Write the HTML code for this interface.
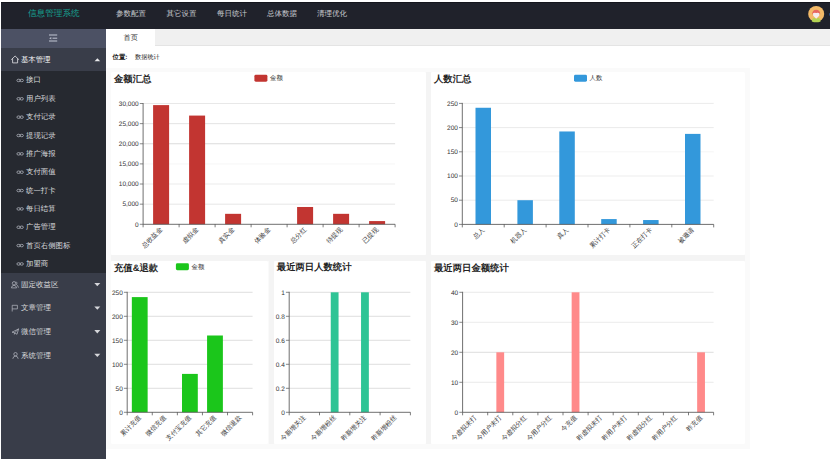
<!DOCTYPE html>
<html><head><meta charset="utf-8">
<style>
html,body{margin:0;padding:0;}
body{text-rendering:geometricPrecision;width:830px;height:459px;overflow:hidden;position:relative;background:#fff;font-family:"Liberation Sans", sans-serif;}
div{position:absolute;box-sizing:border-box;}
#top{left:1px;top:2px;width:829px;height:27px;background:#20222b;border-top:1px solid #15161d;}
#logo{left:28px;top:8.4px;font-size:8.6px;line-height:11px;color:#16a393;white-space:nowrap;}
.nav{top:8.3px;font-size:7.5px;line-height:11px;color:#c8cacf;white-space:nowrap;}
#avatar{left:808.5px;top:6.4px;width:15.2px;height:15.2px;border-radius:50%;background:#f2b25c;overflow:hidden;}
#side{left:1px;top:29px;width:105px;height:430px;background:#393d49;}
#tool{left:1px;top:29px;width:105px;height:18.8px;background:#4c5164;}
#hdr{left:1px;top:47.8px;width:105px;height:23.2px;background:#393d49;}
#subbg{left:1px;top:71px;width:105px;height:201.5px;background:#262930;}
.sub{left:26px;font-size:7.4px;line-height:10px;color:#d8d9dc;white-space:nowrap;}
.lk{display:inline-block;width:9px;font-size:7px;color:#c8c9cc;}
.grp{left:21px;font-size:7.5px;line-height:10px;color:#d8d9dc;white-space:nowrap;}
.gi{display:inline-block;width:8.5px;font-size:6px;color:#c8c9cc;}
.tri-d{left:94.6px;width:0;height:0;border-left:2.8px solid transparent;border-right:2.8px solid transparent;border-top:3px solid #d0d1d5;}
#tabbar{left:106px;top:29px;width:724px;height:16.6px;background:#f0f0f0;border-bottom:0.6px solid #e4e4e4;}
#tab1{left:106px;top:29px;width:49px;height:16.8px;background:#fff;}
#tab1t{left:123.6px;top:32.5px;font-size:7.2px;line-height:10px;color:#333;white-space:nowrap;}
#crumb{left:112.5px;top:53.2px;font-size:6.4px;line-height:9px;color:#222;white-space:nowrap;}
#crumb2{left:135px;top:53.2px;font-size:6.2px;line-height:9px;color:#222;white-space:nowrap;}
#cont{left:106px;top:67.5px;width:644px;height:381px;background:#fafafa;}
.gap{background:#f4f4f4;}
.card{background:#fff;border-radius:1.5px;}
.ttl{font-size:9.35px;line-height:12px;font-weight:bold;color:#222;white-space:nowrap;}
svg{position:absolute;left:0;top:0;}
svg text{text-rendering:geometricPrecision;}
</style></head><body>
<div id="top"></div>
<div id="logo">信息管理系统</div>
<div class="nav" style="left:116px">参数配置</div><div class="nav" style="left:166.5px">其它设置</div><div class="nav" style="left:217px">每日统计</div><div class="nav" style="left:267px">总体数据</div><div class="nav" style="left:317px">清理优化</div>
<svg width="830" height="459" style="z-index:2"><circle cx="816.2" cy="13.9" r="8" fill="#f3ba68"/>
<path d="M812.2 14.3 Q812.2 9.8 816.2 9.8 Q820.2 9.8 820.2 14.3 Z" fill="#e8675f"/>
<path d="M813 13.2 Q814.5 12.3 816.2 13 Q818 12.3 819.4 13.2 L819.2 15.8 L816.2 18.8 L813.2 15.8 Z" fill="#f6ecef"/>
<path d="M811.8 21.4 Q812 18.2 814.3 17.8 L816.2 19 L818.1 17.8 Q820.4 18.2 820.6 21.4 Q816.2 23.2 811.8 21.4 Z" fill="#b3d353"/>
<rect x="829" y="13.2" width="1" height="2.4" fill="#3a6fc0" opacity="0.55"/></svg>
<div id="side"></div>
<div id="tool"></div>
<div id="hdr"></div>
<div id="subbg"></div>
<svg width="830" height="459" style="z-index:2">
<g stroke="#b9bdca" stroke-width="1.1" fill="none">
<line x1="49" y1="35" x2="57.2" y2="35"/><line x1="52.5" y1="38.2" x2="57.2" y2="38.2"/><line x1="49" y1="41" x2="57.2" y2="41"/>
</g>
<path d="M49.2 38.2 L51.3 36.9 L51.3 39.5 Z" fill="#b9bdca"/>
<path d="M11.3 59.7 L15.1 56 L18.9 59.7 M12.6 58.5 V62.9 H17.6 V58.5" stroke="#e4e5e8" stroke-width="0.8" fill="none"/>
<path d="M94.6 61.2 L97.4 58.2 L100.2 61.2 Z" fill="#e8e9ec"/>
<g fill="none" stroke="#b4b8c2" stroke-width="0.75"><ellipse cx="18.6" cy="80.45" rx="1.7" ry="1.25"/><ellipse cx="21.7" cy="80.45" rx="1.7" ry="1.25"/><ellipse cx="18.6" cy="98.80" rx="1.7" ry="1.25"/><ellipse cx="21.7" cy="98.80" rx="1.7" ry="1.25"/><ellipse cx="18.6" cy="117.15" rx="1.7" ry="1.25"/><ellipse cx="21.7" cy="117.15" rx="1.7" ry="1.25"/><ellipse cx="18.6" cy="135.50" rx="1.7" ry="1.25"/><ellipse cx="21.7" cy="135.50" rx="1.7" ry="1.25"/><ellipse cx="18.6" cy="153.85" rx="1.7" ry="1.25"/><ellipse cx="21.7" cy="153.85" rx="1.7" ry="1.25"/><ellipse cx="18.6" cy="172.20" rx="1.7" ry="1.25"/><ellipse cx="21.7" cy="172.20" rx="1.7" ry="1.25"/><ellipse cx="18.6" cy="190.55" rx="1.7" ry="1.25"/><ellipse cx="21.7" cy="190.55" rx="1.7" ry="1.25"/><ellipse cx="18.6" cy="208.90" rx="1.7" ry="1.25"/><ellipse cx="21.7" cy="208.90" rx="1.7" ry="1.25"/><ellipse cx="18.6" cy="227.25" rx="1.7" ry="1.25"/><ellipse cx="21.7" cy="227.25" rx="1.7" ry="1.25"/><ellipse cx="18.6" cy="245.60" rx="1.7" ry="1.25"/><ellipse cx="21.7" cy="245.60" rx="1.7" ry="1.25"/><ellipse cx="18.6" cy="263.95" rx="1.7" ry="1.25"/><ellipse cx="21.7" cy="263.95" rx="1.7" ry="1.25"/></g>
<path d="M94.3 282.90 L100.3 282.90 L97.3 286.20 Z" fill="#d6d7db"/><g fill="none" stroke="#b9bcc4" stroke-width="0.7"><circle cx="14" cy="283.30" r="1.7"/><path d="M11.4 287.90 Q11.8 285.30 14 285.30 Q16.2 285.30 16.6 287.90 Z"/><path d="M16 281.60 Q17.9 282.70 16.5 284.70 Q18.2 285.50 18.4 287.70"/></g><path d="M94.3 306.50 L100.3 306.50 L97.3 309.80 Z" fill="#d6d7db"/><g fill="none" stroke="#b9bcc4" stroke-width="0.7"><path d="M12.2 311.50 V305.30 H17.4 V308.90 H12.2"/></g><path d="M94.3 330.10 L100.3 330.10 L97.3 333.40 Z" fill="#d6d7db"/><g fill="none" stroke="#b9bcc4" stroke-width="0.7"><path d="M12 332.20 L18.6 328.90 L17 334.30 L14.6 332.80 Z M14.6 332.80 L18.6 328.90 M14.6 332.80 L14.3 334.50"/></g><path d="M94.3 353.70 L100.3 353.70 L97.3 357.00 Z" fill="#d6d7db"/><g fill="none" stroke="#b9bcc4" stroke-width="0.7"><circle cx="15.5" cy="354.20" r="1.7"/><path d="M12.8 358.80 Q13.2 356.10 15.5 356.10 Q17.8 356.10 18.2 358.80"/></g>
</svg>
<div id="hdrt" style="left:20.9px;top:55px;font-size:7.4px;line-height:10px;color:#ffffff;white-space:nowrap;z-index:3">基本管理</div>
<div class="sub" style="top:75.45px">接口</div><div class="sub" style="top:93.80px">用户列表</div><div class="sub" style="top:112.15px">支付记录</div><div class="sub" style="top:130.50px">提现记录</div><div class="sub" style="top:148.85px">推广海报</div><div class="sub" style="top:167.20px">支付面值</div><div class="sub" style="top:185.55px">统一打卡</div><div class="sub" style="top:203.90px">每日结算</div><div class="sub" style="top:222.25px">广告管理</div><div class="sub" style="top:240.60px">首页右侧图标</div><div class="sub" style="top:258.95px">加盟商</div>
<div class="grp" style="top:279.70px">固定收益区</div><div class="grp" style="top:303.30px">文章管理</div><div class="grp" style="top:326.90px">微信管理</div><div class="grp" style="top:350.50px">系统管理</div>
<div id="tabbar"></div>
<div id="tab1"></div>
<div id="tab1t">首页</div>
<div id="crumb"><b>位置:</b></div><div id="crumb2">数据统计</div>
<div id="cont"></div><div class="gap" style="left:425.6px;top:71.6px;width:5.4px;height:372.6px"></div><div class="gap" style="left:110.8px;top:255px;width:634.5px;height:6px"></div><div class="gap" style="left:268.5px;top:261px;width:5.2px;height:183.2px"></div>
<div class="card" style="left:110.8px;top:71.6px;width:314.80px;height:183.40px"></div><div class="card" style="left:431.0px;top:71.6px;width:314.30px;height:183.40px"></div><div class="card" style="left:110.8px;top:261.0px;width:157.70px;height:183.20px"></div><div class="card" style="left:273.7px;top:261.0px;width:151.90px;height:183.20px"></div><div class="card" style="left:431.0px;top:261.0px;width:314.30px;height:183.20px"></div>
<div class="ttl" style="left:114px;top:72.50px">金额汇总</div><div class="ttl" style="left:434px;top:72.50px">人数汇总</div><div class="ttl" style="left:114px;top:261.50px">充值&amp;退款</div><div class="ttl" style="left:276.8px;top:261.30px">最近两日人数统计</div><div class="ttl" style="left:434px;top:261.50px">最近两日金额统计</div>
<svg width="830" height="459" font-family='"Liberation Sans", sans-serif'>
<rect x="254.4" y="74.85" width="13" height="6.9" rx="1.4" fill="#c23531"/><text x="270.00" y="80.10" font-size="6.4" fill="#333">金额</text><rect x="574.0" y="74.85" width="13" height="6.9" rx="1.4" fill="#3398db"/><text x="589.60" y="80.10" font-size="6.4" fill="#333">人数</text><rect x="175.9" y="263.25" width="13" height="6.9" rx="1.4" fill="#1bc61b"/><text x="191.50" y="268.50" font-size="6.4" fill="#333">金额</text>
<line x1="139.79999999999998" y1="224.30" x2="143.1" y2="224.30" stroke="#555" stroke-width="0.7"/>
<text x="138.7" y="226.50" text-anchor="end" font-size="6.5" fill="#333">0</text>
<line x1="143.1" y1="204.17" x2="395.1" y2="204.17" stroke="#e0e0e0" stroke-width="0.8"/>
<line x1="139.79999999999998" y1="204.17" x2="143.1" y2="204.17" stroke="#555" stroke-width="0.7"/>
<text x="138.7" y="206.37" text-anchor="end" font-size="6.5" fill="#333">5,000</text>
<line x1="143.1" y1="184.03" x2="395.1" y2="184.03" stroke="#e6e6e6" stroke-width="0.8"/>
<line x1="139.79999999999998" y1="184.03" x2="143.1" y2="184.03" stroke="#555" stroke-width="0.7"/>
<text x="138.7" y="186.23" text-anchor="end" font-size="6.5" fill="#333">10,000</text>
<line x1="143.1" y1="163.90" x2="395.1" y2="163.90" stroke="#f4f4f4" stroke-width="0.8"/>
<line x1="139.79999999999998" y1="163.90" x2="143.1" y2="163.90" stroke="#555" stroke-width="0.7"/>
<text x="138.7" y="166.10" text-anchor="end" font-size="6.5" fill="#333">15,000</text>
<line x1="143.1" y1="143.77" x2="395.1" y2="143.77" stroke="#d2d2d2" stroke-width="0.8"/>
<line x1="139.79999999999998" y1="143.77" x2="143.1" y2="143.77" stroke="#555" stroke-width="0.7"/>
<text x="138.7" y="145.97" text-anchor="end" font-size="6.5" fill="#333">20,000</text>
<line x1="143.1" y1="123.63" x2="395.1" y2="123.63" stroke="#dcdcdc" stroke-width="0.8"/>
<line x1="139.79999999999998" y1="123.63" x2="143.1" y2="123.63" stroke="#555" stroke-width="0.7"/>
<text x="138.7" y="125.83" text-anchor="end" font-size="6.5" fill="#333">25,000</text>
<line x1="143.1" y1="103.50" x2="395.1" y2="103.50" stroke="#e2e2e2" stroke-width="0.8"/>
<line x1="139.79999999999998" y1="103.50" x2="143.1" y2="103.50" stroke="#555" stroke-width="0.7"/>
<text x="138.7" y="105.70" text-anchor="end" font-size="6.5" fill="#333">30,000</text>
<rect x="153.10" y="105.11" width="16.0" height="119.19" fill="#c23531"/>
<rect x="189.10" y="115.58" width="16.0" height="108.72" fill="#c23531"/>
<rect x="225.10" y="213.83" width="16.0" height="10.47" fill="#c23531"/>
<rect x="297.10" y="206.99" width="16.0" height="17.31" fill="#c23531"/>
<rect x="333.10" y="213.83" width="16.0" height="10.47" fill="#c23531"/>
<rect x="369.10" y="221.08" width="16.0" height="3.22" fill="#c23531"/>
<line x1="143.1" y1="103.0" x2="143.1" y2="224.3" stroke="#555" stroke-width="0.85"/>
<line x1="143.1" y1="224.3" x2="395.1" y2="224.3" stroke="#555" stroke-width="0.85"/>
<line x1="143.10" y1="224.3" x2="143.10" y2="227.3" stroke="#444" stroke-width="0.7"/>
<line x1="179.10" y1="224.3" x2="179.10" y2="227.3" stroke="#444" stroke-width="0.7"/>
<line x1="215.10" y1="224.3" x2="215.10" y2="227.3" stroke="#444" stroke-width="0.7"/>
<line x1="251.10" y1="224.3" x2="251.10" y2="227.3" stroke="#444" stroke-width="0.7"/>
<line x1="287.10" y1="224.3" x2="287.10" y2="227.3" stroke="#444" stroke-width="0.7"/>
<line x1="323.10" y1="224.3" x2="323.10" y2="227.3" stroke="#444" stroke-width="0.7"/>
<line x1="359.10" y1="224.3" x2="359.10" y2="227.3" stroke="#444" stroke-width="0.7"/>
<line x1="395.10" y1="224.3" x2="395.10" y2="227.3" stroke="#444" stroke-width="0.7"/>
<text transform="translate(162.80,230.0) rotate(-45)" text-anchor="end" font-size="6.5" fill="#333">总收益金</text>
<text transform="translate(198.80,230.0) rotate(-45)" text-anchor="end" font-size="6.5" fill="#333">虚拟金</text>
<text transform="translate(234.80,230.0) rotate(-45)" text-anchor="end" font-size="6.5" fill="#333">真实金</text>
<text transform="translate(270.80,230.0) rotate(-45)" text-anchor="end" font-size="6.5" fill="#333">体验金</text>
<text transform="translate(306.80,230.0) rotate(-45)" text-anchor="end" font-size="6.5" fill="#333">总分红</text>
<text transform="translate(342.80,230.0) rotate(-45)" text-anchor="end" font-size="6.5" fill="#333">待提现</text>
<text transform="translate(378.80,230.0) rotate(-45)" text-anchor="end" font-size="6.5" fill="#333">已提现</text><line x1="459.0" y1="224.40" x2="462.3" y2="224.40" stroke="#555" stroke-width="0.7"/>
<text x="457.90000000000003" y="226.60" text-anchor="end" font-size="6.5" fill="#333">0</text>
<line x1="462.3" y1="200.20" x2="713.7" y2="200.20" stroke="#e6e6e6" stroke-width="0.8"/>
<line x1="459.0" y1="200.20" x2="462.3" y2="200.20" stroke="#555" stroke-width="0.7"/>
<text x="457.90000000000003" y="202.40" text-anchor="end" font-size="6.5" fill="#333">50</text>
<line x1="462.3" y1="176.00" x2="713.7" y2="176.00" stroke="#e8e8e8" stroke-width="0.8"/>
<line x1="459.0" y1="176.00" x2="462.3" y2="176.00" stroke="#555" stroke-width="0.7"/>
<text x="457.90000000000003" y="178.20" text-anchor="end" font-size="6.5" fill="#333">100</text>
<line x1="462.3" y1="151.80" x2="713.7" y2="151.80" stroke="#f3f3f3" stroke-width="0.8"/>
<line x1="459.0" y1="151.80" x2="462.3" y2="151.80" stroke="#555" stroke-width="0.7"/>
<text x="457.90000000000003" y="154.00" text-anchor="end" font-size="6.5" fill="#333">150</text>
<line x1="462.3" y1="127.60" x2="713.7" y2="127.60" stroke="#e4e4e4" stroke-width="0.8"/>
<line x1="459.0" y1="127.60" x2="462.3" y2="127.60" stroke="#555" stroke-width="0.7"/>
<text x="457.90000000000003" y="129.80" text-anchor="end" font-size="6.5" fill="#333">200</text>
<line x1="462.3" y1="103.40" x2="713.7" y2="103.40" stroke="#e6e6e6" stroke-width="0.8"/>
<line x1="459.0" y1="103.40" x2="462.3" y2="103.40" stroke="#555" stroke-width="0.7"/>
<text x="457.90000000000003" y="105.60" text-anchor="end" font-size="6.5" fill="#333">250</text>
<rect x="475.50" y="107.76" width="15.5" height="116.64" fill="#3398db"/>
<rect x="517.40" y="200.20" width="15.5" height="24.20" fill="#3398db"/>
<rect x="559.30" y="131.47" width="15.5" height="92.93" fill="#3398db"/>
<rect x="601.20" y="219.08" width="15.5" height="5.32" fill="#3398db"/>
<rect x="643.10" y="220.04" width="15.5" height="4.36" fill="#3398db"/>
<rect x="685.00" y="133.89" width="15.5" height="90.51" fill="#3398db"/>
<line x1="462.3" y1="102.9" x2="462.3" y2="224.4" stroke="#555" stroke-width="0.85"/>
<line x1="462.3" y1="224.4" x2="713.7" y2="224.4" stroke="#555" stroke-width="0.85"/>
<line x1="462.30" y1="224.4" x2="462.30" y2="227.4" stroke="#444" stroke-width="0.7"/>
<line x1="504.20" y1="224.4" x2="504.20" y2="227.4" stroke="#444" stroke-width="0.7"/>
<line x1="546.10" y1="224.4" x2="546.10" y2="227.4" stroke="#444" stroke-width="0.7"/>
<line x1="588.00" y1="224.4" x2="588.00" y2="227.4" stroke="#444" stroke-width="0.7"/>
<line x1="629.90" y1="224.4" x2="629.90" y2="227.4" stroke="#444" stroke-width="0.7"/>
<line x1="671.80" y1="224.4" x2="671.80" y2="227.4" stroke="#444" stroke-width="0.7"/>
<line x1="713.70" y1="224.4" x2="713.70" y2="227.4" stroke="#444" stroke-width="0.7"/>
<text transform="translate(484.95,230.1) rotate(-45)" text-anchor="end" font-size="6.5" fill="#333">总人</text>
<text transform="translate(526.85,230.1) rotate(-45)" text-anchor="end" font-size="6.5" fill="#333">机器人</text>
<text transform="translate(568.75,230.1) rotate(-45)" text-anchor="end" font-size="6.5" fill="#333">真人</text>
<text transform="translate(610.65,230.1) rotate(-45)" text-anchor="end" font-size="6.5" fill="#333">累计打卡</text>
<text transform="translate(652.55,230.1) rotate(-45)" text-anchor="end" font-size="6.5" fill="#333">正在打卡</text>
<text transform="translate(694.45,230.1) rotate(-45)" text-anchor="end" font-size="6.5" fill="#333">被邀请</text><line x1="123.9" y1="412.30" x2="127.2" y2="412.30" stroke="#555" stroke-width="0.7"/>
<text x="122.8" y="414.50" text-anchor="end" font-size="6.5" fill="#333">0</text>
<line x1="127.2" y1="388.30" x2="252.6" y2="388.30" stroke="#d5d5d5" stroke-width="0.8"/>
<line x1="123.9" y1="388.30" x2="127.2" y2="388.30" stroke="#555" stroke-width="0.7"/>
<text x="122.8" y="390.50" text-anchor="end" font-size="6.5" fill="#333">50</text>
<line x1="127.2" y1="364.30" x2="252.6" y2="364.30" stroke="#d5d5d5" stroke-width="0.8"/>
<line x1="123.9" y1="364.30" x2="127.2" y2="364.30" stroke="#555" stroke-width="0.7"/>
<text x="122.8" y="366.50" text-anchor="end" font-size="6.5" fill="#333">100</text>
<line x1="127.2" y1="340.30" x2="252.6" y2="340.30" stroke="#d5d5d5" stroke-width="0.8"/>
<line x1="123.9" y1="340.30" x2="127.2" y2="340.30" stroke="#555" stroke-width="0.7"/>
<text x="122.8" y="342.50" text-anchor="end" font-size="6.5" fill="#333">150</text>
<line x1="127.2" y1="316.30" x2="252.6" y2="316.30" stroke="#d5d5d5" stroke-width="0.8"/>
<line x1="123.9" y1="316.30" x2="127.2" y2="316.30" stroke="#555" stroke-width="0.7"/>
<text x="122.8" y="318.50" text-anchor="end" font-size="6.5" fill="#333">200</text>
<line x1="127.2" y1="292.30" x2="252.6" y2="292.30" stroke="#d5d5d5" stroke-width="0.8"/>
<line x1="123.9" y1="292.30" x2="127.2" y2="292.30" stroke="#555" stroke-width="0.7"/>
<text x="122.8" y="294.50" text-anchor="end" font-size="6.5" fill="#333">250</text>
<rect x="131.84" y="297.10" width="15.8" height="115.20" fill="#1bc61b"/>
<rect x="182.00" y="373.90" width="15.8" height="38.40" fill="#1bc61b"/>
<rect x="207.08" y="335.50" width="15.8" height="76.80" fill="#1bc61b"/>
<line x1="127.2" y1="291.8" x2="127.2" y2="412.3" stroke="#555" stroke-width="0.85"/>
<line x1="127.2" y1="412.3" x2="252.6" y2="412.3" stroke="#555" stroke-width="0.85"/>
<line x1="127.20" y1="412.3" x2="127.20" y2="415.3" stroke="#444" stroke-width="0.7"/>
<line x1="152.28" y1="412.3" x2="152.28" y2="415.3" stroke="#444" stroke-width="0.7"/>
<line x1="177.36" y1="412.3" x2="177.36" y2="415.3" stroke="#444" stroke-width="0.7"/>
<line x1="202.44" y1="412.3" x2="202.44" y2="415.3" stroke="#444" stroke-width="0.7"/>
<line x1="227.52" y1="412.3" x2="227.52" y2="415.3" stroke="#444" stroke-width="0.7"/>
<line x1="252.60" y1="412.3" x2="252.60" y2="415.3" stroke="#444" stroke-width="0.7"/>
<text transform="translate(141.44,418.0) rotate(-45)" text-anchor="end" font-size="6.5" fill="#333">累计充值</text>
<text transform="translate(166.52,418.0) rotate(-45)" text-anchor="end" font-size="6.5" fill="#333">微信充值</text>
<text transform="translate(191.60,418.0) rotate(-45)" text-anchor="end" font-size="6.5" fill="#333">支付宝充值</text>
<text transform="translate(216.68,418.0) rotate(-45)" text-anchor="end" font-size="6.5" fill="#333">其它充值</text>
<text transform="translate(241.76,418.0) rotate(-45)" text-anchor="end" font-size="6.5" fill="#333">微信退款</text><line x1="285.9" y1="412.30" x2="289.2" y2="412.30" stroke="#555" stroke-width="0.7"/>
<text x="284.8" y="414.50" text-anchor="end" font-size="6.5" fill="#333">0</text>
<line x1="289.2" y1="388.30" x2="410.4" y2="388.30" stroke="#d5d5d5" stroke-width="0.8"/>
<line x1="285.9" y1="388.30" x2="289.2" y2="388.30" stroke="#555" stroke-width="0.7"/>
<text x="284.8" y="390.50" text-anchor="end" font-size="6.5" fill="#333">0.2</text>
<line x1="289.2" y1="364.30" x2="410.4" y2="364.30" stroke="#d5d5d5" stroke-width="0.8"/>
<line x1="285.9" y1="364.30" x2="289.2" y2="364.30" stroke="#555" stroke-width="0.7"/>
<text x="284.8" y="366.50" text-anchor="end" font-size="6.5" fill="#333">0.4</text>
<line x1="289.2" y1="340.30" x2="410.4" y2="340.30" stroke="#d5d5d5" stroke-width="0.8"/>
<line x1="285.9" y1="340.30" x2="289.2" y2="340.30" stroke="#555" stroke-width="0.7"/>
<text x="284.8" y="342.50" text-anchor="end" font-size="6.5" fill="#333">0.6</text>
<line x1="289.2" y1="316.30" x2="410.4" y2="316.30" stroke="#d5d5d5" stroke-width="0.8"/>
<line x1="285.9" y1="316.30" x2="289.2" y2="316.30" stroke="#555" stroke-width="0.7"/>
<text x="284.8" y="318.50" text-anchor="end" font-size="6.5" fill="#333">0.8</text>
<line x1="289.2" y1="292.30" x2="410.4" y2="292.30" stroke="#d5d5d5" stroke-width="0.8"/>
<line x1="285.9" y1="292.30" x2="289.2" y2="292.30" stroke="#555" stroke-width="0.7"/>
<text x="284.8" y="294.50" text-anchor="end" font-size="6.5" fill="#333">1</text>
<rect x="330.75" y="292.30" width="7.8" height="120.00" fill="#2ec495"/>
<rect x="361.05" y="292.30" width="7.8" height="120.00" fill="#2ec495"/>
<line x1="289.2" y1="291.8" x2="289.2" y2="412.3" stroke="#555" stroke-width="0.85"/>
<line x1="289.2" y1="412.3" x2="410.4" y2="412.3" stroke="#555" stroke-width="0.85"/>
<line x1="289.20" y1="412.3" x2="289.20" y2="415.3" stroke="#444" stroke-width="0.7"/>
<line x1="319.50" y1="412.3" x2="319.50" y2="415.3" stroke="#444" stroke-width="0.7"/>
<line x1="349.80" y1="412.3" x2="349.80" y2="415.3" stroke="#444" stroke-width="0.7"/>
<line x1="380.10" y1="412.3" x2="380.10" y2="415.3" stroke="#444" stroke-width="0.7"/>
<line x1="410.40" y1="412.3" x2="410.40" y2="415.3" stroke="#444" stroke-width="0.7"/>
<text transform="translate(306.05,418.0) rotate(-45)" text-anchor="end" font-size="6.5" fill="#333">今新增关注</text>
<text transform="translate(336.35,418.0) rotate(-45)" text-anchor="end" font-size="6.5" fill="#333">今新增粉丝</text>
<text transform="translate(366.65,418.0) rotate(-45)" text-anchor="end" font-size="6.5" fill="#333">昨新增关注</text>
<text transform="translate(396.95,418.0) rotate(-45)" text-anchor="end" font-size="6.5" fill="#333">昨新增粉丝</text><line x1="459.3" y1="412.30" x2="462.6" y2="412.30" stroke="#555" stroke-width="0.7"/>
<text x="458.20000000000005" y="414.50" text-anchor="end" font-size="6.5" fill="#333">0</text>
<line x1="462.6" y1="382.30" x2="713.6" y2="382.30" stroke="#e4e4e4" stroke-width="0.8"/>
<line x1="459.3" y1="382.30" x2="462.6" y2="382.30" stroke="#555" stroke-width="0.7"/>
<text x="458.20000000000005" y="384.50" text-anchor="end" font-size="6.5" fill="#333">10</text>
<line x1="462.6" y1="352.30" x2="713.6" y2="352.30" stroke="#d4d4d4" stroke-width="0.8"/>
<line x1="459.3" y1="352.30" x2="462.6" y2="352.30" stroke="#555" stroke-width="0.7"/>
<text x="458.20000000000005" y="354.50" text-anchor="end" font-size="6.5" fill="#333">20</text>
<line x1="462.6" y1="322.30" x2="713.6" y2="322.30" stroke="#e6e6e6" stroke-width="0.8"/>
<line x1="459.3" y1="322.30" x2="462.6" y2="322.30" stroke="#555" stroke-width="0.7"/>
<text x="458.20000000000005" y="324.50" text-anchor="end" font-size="6.5" fill="#333">30</text>
<line x1="462.6" y1="292.30" x2="713.6" y2="292.30" stroke="#e4e4e4" stroke-width="0.8"/>
<line x1="459.3" y1="292.30" x2="462.6" y2="292.30" stroke="#555" stroke-width="0.7"/>
<text x="458.20000000000005" y="294.50" text-anchor="end" font-size="6.5" fill="#333">40</text>
<rect x="496.35" y="352.30" width="7.8" height="60.00" fill="#ff8a8a"/>
<rect x="571.65" y="292.30" width="7.8" height="120.00" fill="#ff8a8a"/>
<rect x="697.15" y="352.30" width="7.8" height="60.00" fill="#ff8a8a"/>
<line x1="462.6" y1="291.8" x2="462.6" y2="412.3" stroke="#555" stroke-width="0.85"/>
<line x1="462.6" y1="412.3" x2="713.6" y2="412.3" stroke="#555" stroke-width="0.85"/>
<line x1="462.60" y1="412.3" x2="462.60" y2="415.3" stroke="#444" stroke-width="0.7"/>
<line x1="487.70" y1="412.3" x2="487.70" y2="415.3" stroke="#444" stroke-width="0.7"/>
<line x1="512.80" y1="412.3" x2="512.80" y2="415.3" stroke="#444" stroke-width="0.7"/>
<line x1="537.90" y1="412.3" x2="537.90" y2="415.3" stroke="#444" stroke-width="0.7"/>
<line x1="563.00" y1="412.3" x2="563.00" y2="415.3" stroke="#444" stroke-width="0.7"/>
<line x1="588.10" y1="412.3" x2="588.10" y2="415.3" stroke="#444" stroke-width="0.7"/>
<line x1="613.20" y1="412.3" x2="613.20" y2="415.3" stroke="#444" stroke-width="0.7"/>
<line x1="638.30" y1="412.3" x2="638.30" y2="415.3" stroke="#444" stroke-width="0.7"/>
<line x1="663.40" y1="412.3" x2="663.40" y2="415.3" stroke="#444" stroke-width="0.7"/>
<line x1="688.50" y1="412.3" x2="688.50" y2="415.3" stroke="#444" stroke-width="0.7"/>
<line x1="713.60" y1="412.3" x2="713.60" y2="415.3" stroke="#444" stroke-width="0.7"/>
<text transform="translate(476.85,418.0) rotate(-45)" text-anchor="end" font-size="6.5" fill="#333">今虚拟未打</text>
<text transform="translate(501.95,418.0) rotate(-45)" text-anchor="end" font-size="6.5" fill="#333">今用户未打</text>
<text transform="translate(527.05,418.0) rotate(-45)" text-anchor="end" font-size="6.5" fill="#333">今虚拟分红</text>
<text transform="translate(552.15,418.0) rotate(-45)" text-anchor="end" font-size="6.5" fill="#333">今用户分红</text>
<text transform="translate(577.25,418.0) rotate(-45)" text-anchor="end" font-size="6.5" fill="#333">今充值</text>
<text transform="translate(602.35,418.0) rotate(-45)" text-anchor="end" font-size="6.5" fill="#333">昨虚拟未打</text>
<text transform="translate(627.45,418.0) rotate(-45)" text-anchor="end" font-size="6.5" fill="#333">昨用户未打</text>
<text transform="translate(652.55,418.0) rotate(-45)" text-anchor="end" font-size="6.5" fill="#333">昨虚拟分红</text>
<text transform="translate(677.65,418.0) rotate(-45)" text-anchor="end" font-size="6.5" fill="#333">昨用户分红</text>
<text transform="translate(702.75,418.0) rotate(-45)" text-anchor="end" font-size="6.5" fill="#333">昨充值</text>
</svg>
</body></html>
